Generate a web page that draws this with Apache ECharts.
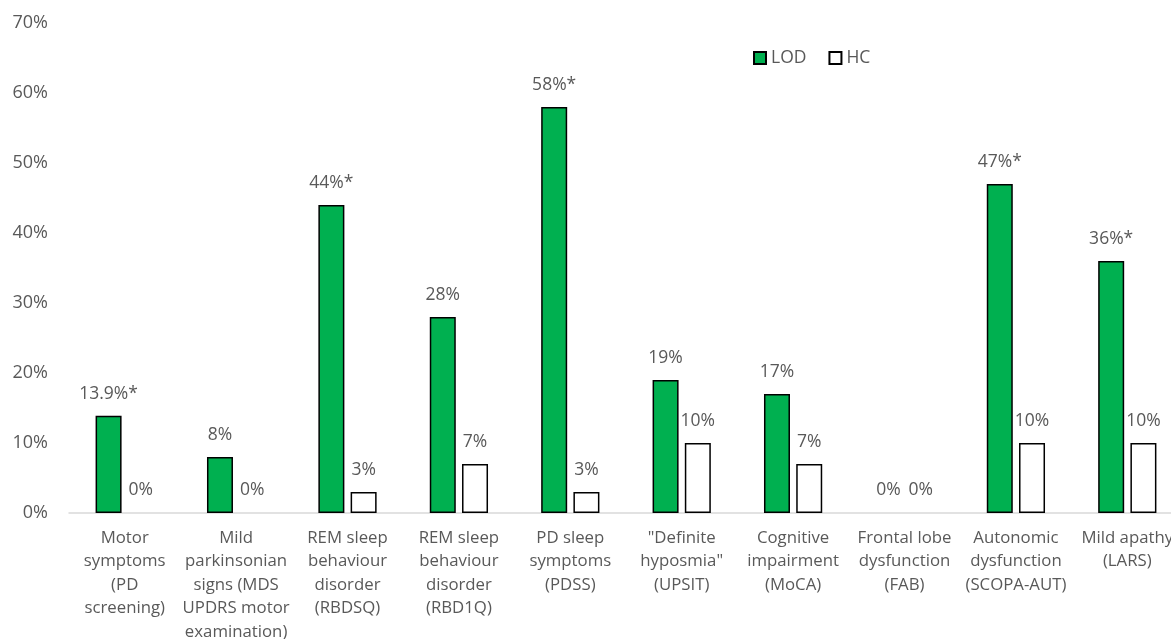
<!DOCTYPE html>
<html>
<head>
<meta charset="utf-8">
<script src="https://cdn.jsdelivr.net/npm/echarts@6/dist/echarts.min.js"></script>
<style>html,body{margin:0;padding:0;background:#fff;}#c{width:1171px;height:639px;}</style>
</head>
<body>
<div id="c"></div>
<script>
const categories = [
  "Motor\nsymptoms\n(PD\nscreening)",
  "Mild\nparkinsonian\nsigns (MDS\nUPDRS motor\nexamination)",
  "REM sleep\nbehaviour\ndisorder\n(RBDSQ)",
  "REM sleep\nbehaviour\ndisorder\n(RBD1Q)",
  "PD sleep\nsymptoms\n(PDSS)",
  "\"Definite\nhyposmia\"\n(UPSIT)",
  "Cognitive\nimpairment\n(MoCA)",
  "Frontal lobe\ndysfunction\n(FAB)",
  "Autonomic\ndysfunction\n(SCOPA-AUT)",
  "Mild apathy\n(LARS)"
];
const lodValues = [13.9, 8, 44, 28, 58, 19, 17, 0, 47, 36];
const hcValues = [0, 0, 3, 7, 3, 10, 7, 0, 10, 10];
const lodLabels = ["13.9%*", "8%", "44%*", "28%", "58%*", "19%", "17%", "0%", "47%*", "36%*"];
const hcLabels = ["0%", "0%", "3%", "7%", "3%", "10%", "7%", "0%", "10%", "10%"];
const yTicks = [0, 10, 20, 30, 40, 50, 60, 70];

const FONT = "Open Sans";
const TXT = "#595959";

function build(values, labels) {
  return values.map((v, i) => ({
    value: v,
    label: { formatter: labels[i] },
    itemStyle: v === 0 ? { borderColor: 'rgba(0,0,0,0)' } : {}
  }));
}

const chart = echarts.init(document.getElementById('c'));
chart.setOption({
  animation: false,
  textStyle: { fontFamily: FONT },
  legend: {
    left: 748, top: 44,
    itemWidth: 12, itemHeight: 12, itemGap: 22,
    icon: 'rect',
    textStyle: { fontFamily: FONT, fontSize: 17.5, color: TXT },
    data: ['LOD', 'HC']
  },
  grid: { left: 69, right: -12, top: 23, bottom: 126, containLabel: false, outerBoundsMode: 'none' },
  xAxis: {
    type: 'category',
    data: categories,
    axisLine: { lineStyle: { color: '#D9D9D9', width: 1.5 } },
    axisTick: { show: false },
    axisLabel: {
      interval: 0, color: TXT, fontFamily: FONT, fontSize: 16.8,
      lineHeight: 23.5, margin: 13, hideOverlap: false
    }
  },
  yAxis: {
    type: 'value', min: 0, max: 70, interval: 10,
    splitLine: { show: false },
    axisLine: { show: false },
    axisTick: { show: false },
    axisLabel: {
      color: TXT, fontFamily: FONT, fontSize: 18, margin: 21,
      formatter: v => yTicks.includes(v) ? v + '%' : ''
    }
  },
  series: [
    {
      name: 'LOD', type: 'bar', barWidth: 26, barGap: '24%',
      data: build(lodValues, lodLabels),
      itemStyle: { color: '#00B050', borderColor: '#000', borderWidth: 1.5 },
      label: { show: true, position: 'top', distance: 13, color: TXT, fontFamily: FONT, fontSize: 17.5 }
    },
    {
      name: 'HC', type: 'bar', barWidth: 26,
      data: build(hcValues, hcLabels),
      itemStyle: { color: '#FFFFFF', borderColor: '#000', borderWidth: 1.5 },
      label: { show: true, position: 'top', distance: 13, color: TXT, fontFamily: FONT, fontSize: 17.5 }
    }
  ]
});
</script>
</body>
</html>
